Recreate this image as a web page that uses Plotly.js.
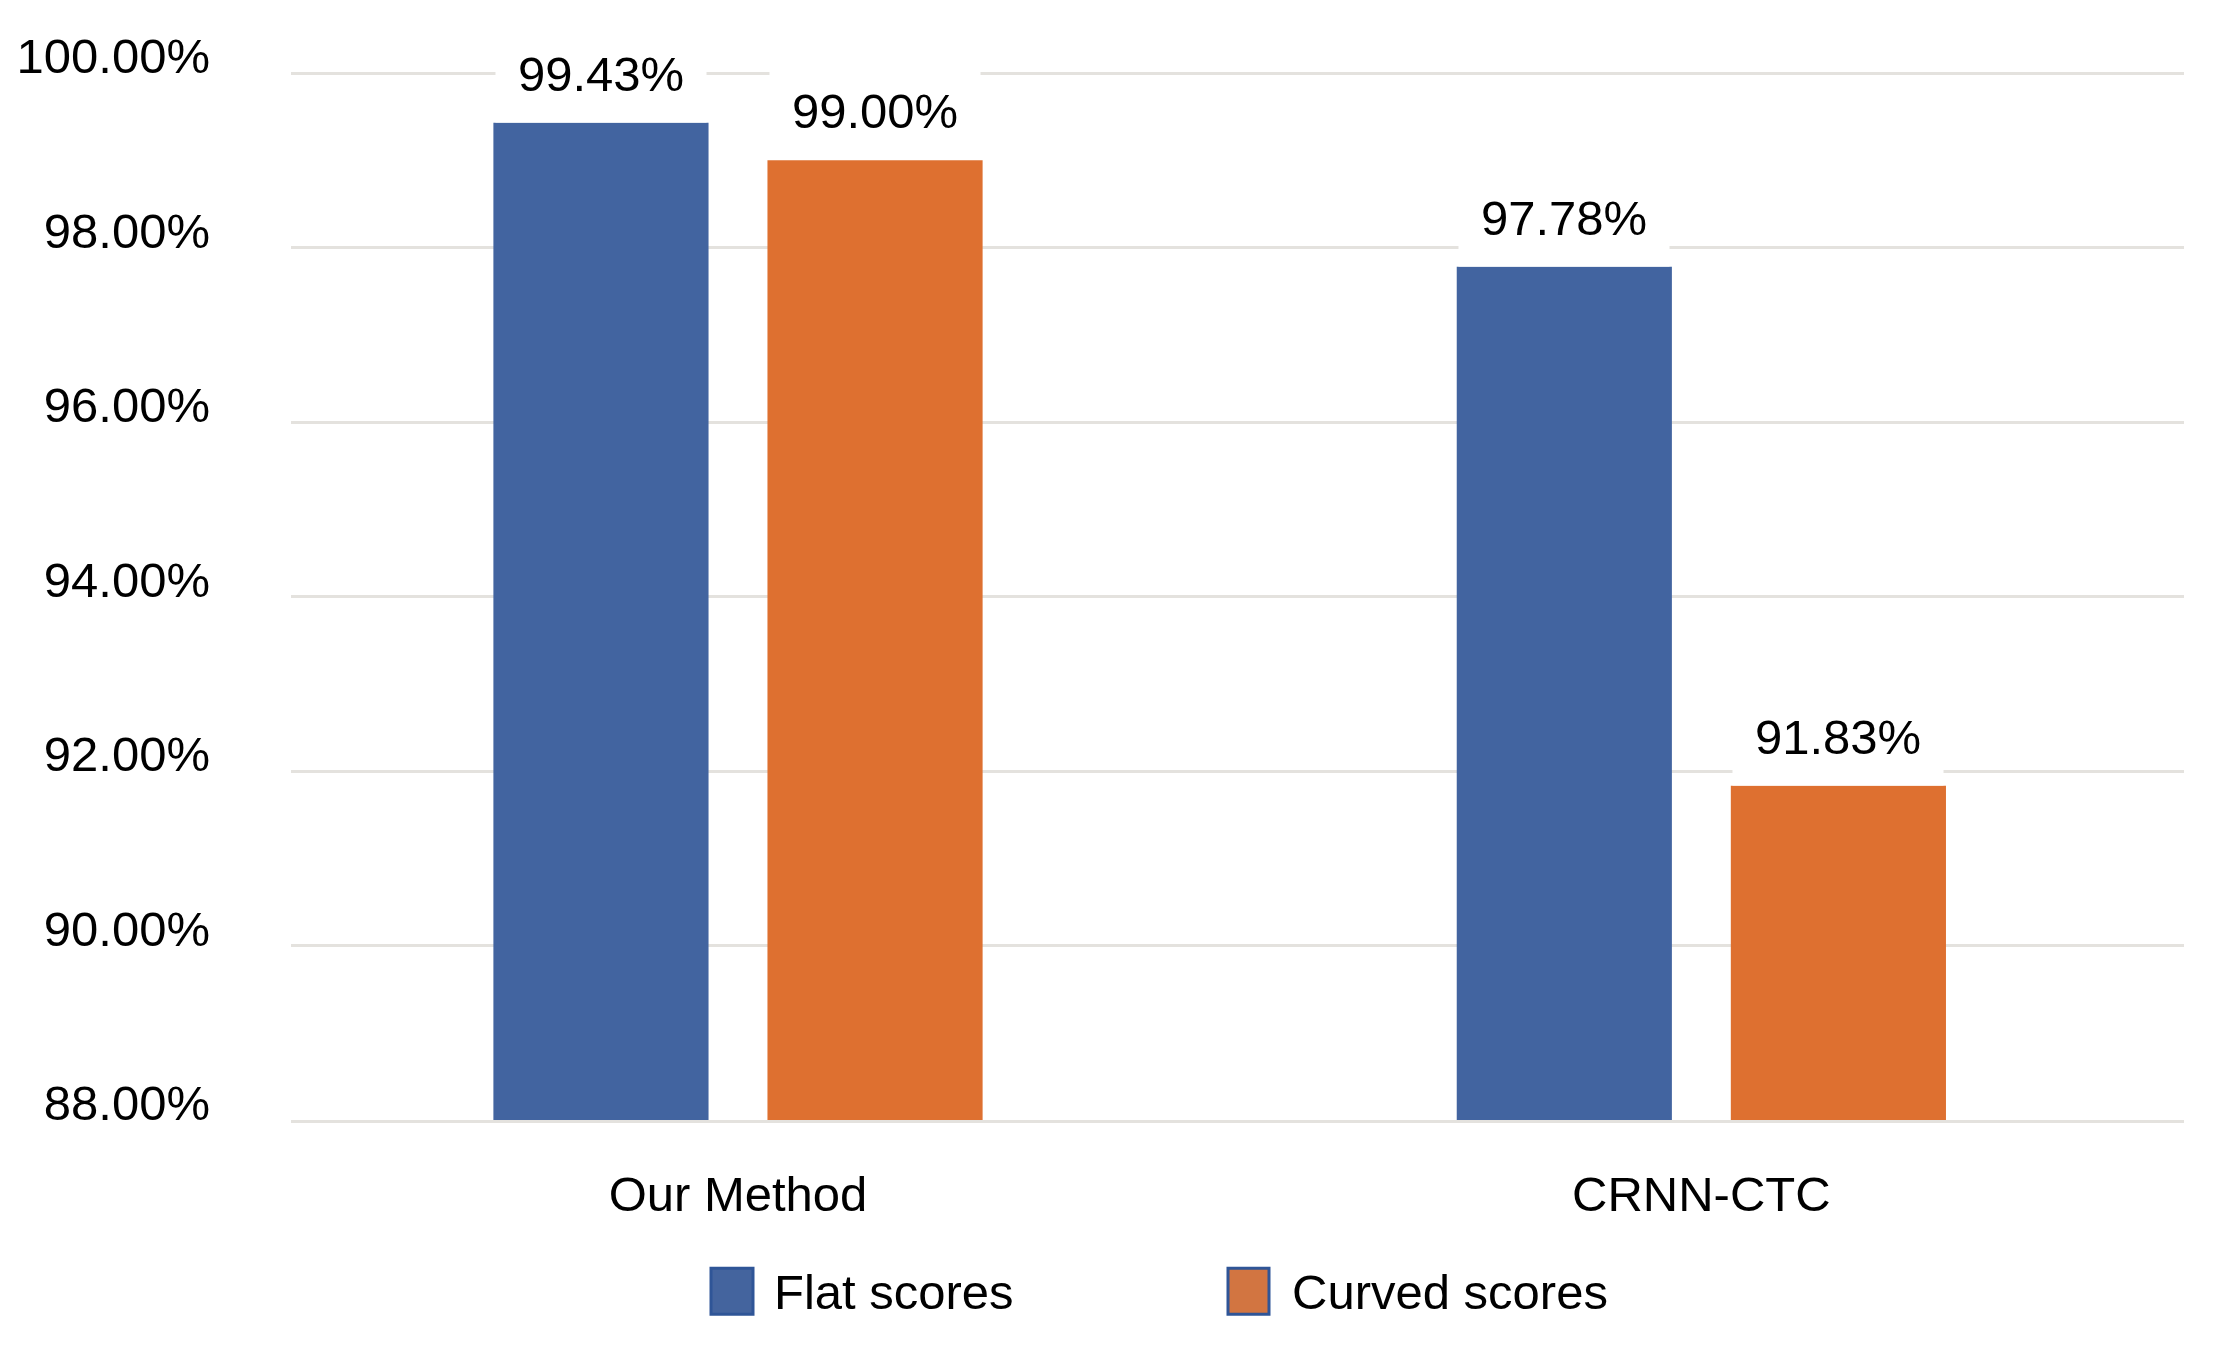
<!DOCTYPE html>
<html>
<head>
<meta charset="utf-8">
<script src="https://cdn.plot.ly/plotly-3.0.1.min.js"></script>
<style>html,body{margin:0;padding:0;background:#fff;}#chart{width:2230px;height:1355px;}</style>
</head>
<body>
<div id="chart"></div>
<script>
const categories = ["Our Method", "CRNN-CTC"];
const flatScores = [99.43, 97.78];
const curvedScores = [99.00, 91.83];
const seriesNames = ["Flat scores", "Curved scores"];
const yTicks = [88, 90, 92, 94, 96, 98, 100];

const FONT = "Liberation Sans, Arial, sans-serif";
const FS = 49;
const BARGAP = 0.431, BARGROUPGAP = 0.215;
const colors = ["#4264A0", "#DE7030"];
const swatchColors = ["#44649E", "#D27541"];

// plot area in pixels
const W = 2230, H = 1355;
const L = 291, R = 2184, T = 73, B = 1120;
const px2x = p => (p - L) / (R - L);
const px2y = p => (B - p) / (B - T);

const traces = [
  {type: "bar", name: seriesNames[0], x: categories, y: flatScores, marker: {color: colors[0]}, hoverinfo: "none", showlegend: false},
  {type: "bar", name: seriesNames[1], x: categories, y: curvedScores, marker: {color: colors[1]}, hoverinfo: "none", showlegend: false}
];

const slot = (1 - BARGAP) / 2;
const annotations = [];
[flatScores, curvedScores].forEach((vals, si) => {
  vals.forEach((v, ci) => {
    annotations.push({
      x: ci + (si - 0.5) * slot, y: v, xref: "x", yref: "y",
      text: v.toFixed(2) + "%", showarrow: false, yanchor: "bottom", xanchor: "center",
      bgcolor: "#ffffff", borderpad: 21, width: 168,
      font: {family: FONT, size: FS, color: "#000"}
    });
  });
});

// legend (drawn as shapes + text)
const legendItems = [
  {name: seriesNames[0], color: swatchColors[0], x0: 711, x1: 753, tx: 772},
  {name: seriesNames[1], color: swatchColors[1], x0: 1228, x1: 1269, tx: 1290}
];
const shapes = [];
legendItems.forEach(it => {
  shapes.push({
    type: "rect", xref: "paper", yref: "paper",
    x0: px2x(it.x0), x1: px2x(it.x1), y0: px2y(1314), y1: px2y(1268),
    fillcolor: it.color, line: {color: "#2F5597", width: 3}
  });
  annotations.push({
    xref: "paper", yref: "paper", x: px2x(it.tx), y: px2y(1292),
    xanchor: "left", yanchor: "middle", showarrow: false, text: it.name,
    font: {family: FONT, size: FS, color: "#000"}
  });
});

const layout = {
  width: W, height: H,
  paper_bgcolor: "#fff", plot_bgcolor: "#fff",
  margin: {l: L, r: W - R, t: T - 2, b: H - B, pad: 0},
  barmode: "group", bargap: BARGAP, bargroupgap: BARGROUPGAP,
  font: {family: FONT, size: FS, color: "#000"},
  showlegend: false,
  xaxis: {
    type: "category", range: [-0.464, 1.501], showgrid: false, zeroline: false,
    showline: true, linecolor: "#e4e2de", linewidth: 3, ticks: "",
    ticklabelstandoff: 29, tickfont: {family: FONT, size: FS, color: "#000"}
  },
  yaxis: {
    range: [88, 100.023], tickvals: yTicks, ticktext: yTicks.map(t => t.toFixed(2) + "%"),
    showgrid: true, gridcolor: "#e4e2de", gridwidth: 3, zeroline: false, showline: false,
    ticks: "", ticklabelstandoff: 80, ticklabelshift: -17,
    tickfont: {family: FONT, size: FS, color: "#000"}
  },
  shapes: shapes,
  annotations: annotations
};

Plotly.newPlot("chart", traces, layout, {displayModeBar: false, staticPlot: true});
</script>
</body>
</html>
